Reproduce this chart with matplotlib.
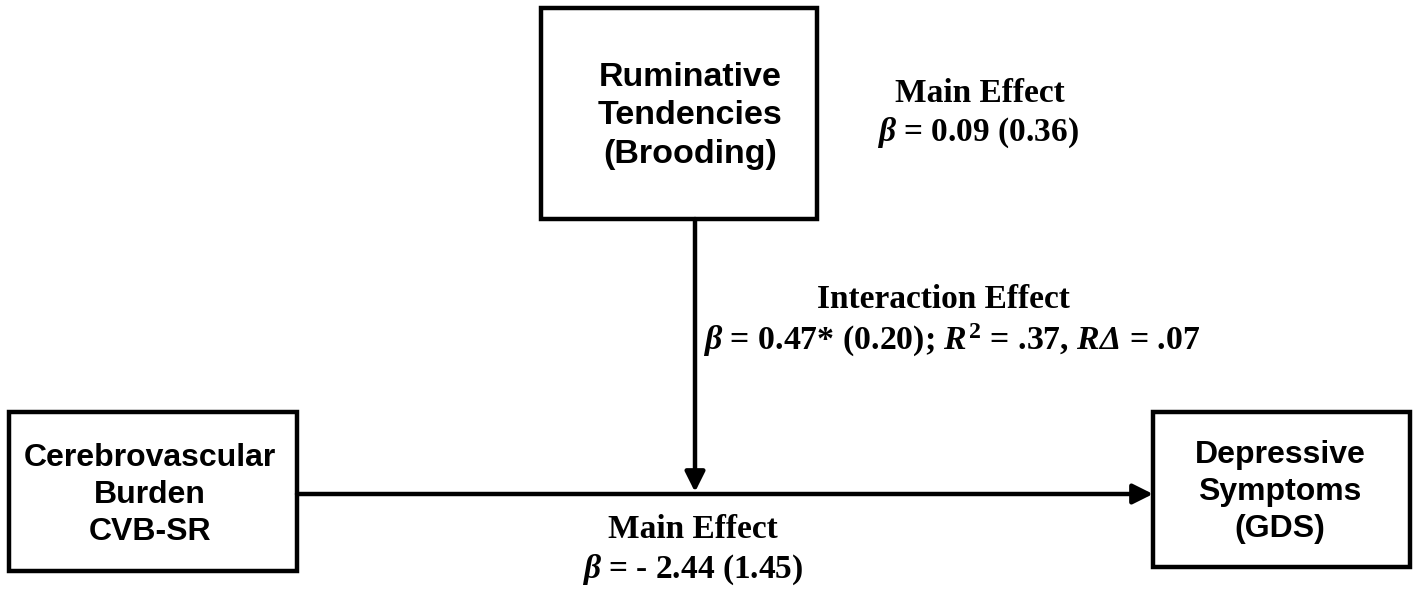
import matplotlib
matplotlib.use("Agg")
import matplotlib.pyplot as plt
from matplotlib.patches import Rectangle

# 变量名称 (三个方框)
node_names = ["moderator", "predictor", "outcome"]
node_labels = ["Ruminative\nTendencies\n(Brooding)",
               "Cerebrovascular\nBurden\nCVB-SR",
               "Depressive\nSymptoms\n(GDS)"]

# 效应标题与系数
effect_titles = ["Main Effect", "Interaction Effect", "Main Effect"]
effect_values = [r"$\beta$ = 0.09 (0.36)",
                 r"$\beta$ = 0.47* (0.20); $R^2$ = .37, $R\mathsf{\Delta}$ = .07",
                 r"$\beta$ = - 2.44 (1.45)"]

plt.rcParams['mathtext.fontset'] = 'custom'
plt.rcParams['mathtext.rm'] = 'Liberation Serif:bold'
plt.rcParams['mathtext.it'] = 'Liberation Serif:italic:bold'
plt.rcParams['mathtext.bf'] = 'Liberation Serif:bold'
plt.rcParams['mathtext.sf'] = 'Liberation Serif:italic:bold'  # 用于斜体 Δ

fig = plt.figure(figsize=(14.16, 5.94), dpi=100)
ax = fig.add_axes([0, 0, 1, 1])
ax.set_xlim(0, 1416)
ax.set_ylim(594, 0)
ax.axis('off')

# 方框位置 (x0, y0, x1, y1) 和文字中心
boxes = {"moderator": (541, 8, 817, 219),
         "predictor": (9, 412, 297, 571),
         "outcome": (1153, 412, 1410, 567)}
label_pos = {"moderator": (690, 116), "predictor": (150, 495),
             "outcome": (1280, 492)}
font_sizes = {"moderator": 24.5, "predictor": 23, "outcome": 23}

for name, label in zip(node_names, node_labels):
    x0, y0, x1, y1 = boxes[name]
    ax.add_patch(Rectangle((x0, y0), x1 - x0, y1 - y0, fill=False,
                           lw=3.2, ec='black'))
    lx, ly = label_pos[name]
    ax.text(lx, ly, label, ha='center', va='center',
            family='Liberation Sans', weight='bold', fontsize=font_sizes[name],
            linespacing=1.32)

# 箭头
arrow = dict(arrowstyle='-|>', lw=3.2, color='black', mutation_scale=30,
             shrinkA=0, shrinkB=0)
ax.annotate("", xy=(1153, 494), xytext=(297, 494), arrowprops=arrow)
ax.annotate("", xy=(695, 492), xytext=(695, 219), arrowprops=arrow)

# 效应注释
title_pos = [(980, 93), (943, 300), (693, 530)]
value_pos = [(978, 133), (952, 340), (693, 570)]
value_sizes = [24, 24.4, 24]
for (tx, ty), (vx, vy), title, val, fs in zip(title_pos, value_pos,
                                              effect_titles, effect_values,
                                              value_sizes):
    ax.text(tx, ty, title, ha='center', va='center', family='Liberation Serif',
            weight='bold', fontsize=24)
    ax.text(vx, vy, val, ha='center', va='center', family='Liberation Serif',
            weight='bold', fontsize=fs)

fig.savefig("out.png", dpi=100)
